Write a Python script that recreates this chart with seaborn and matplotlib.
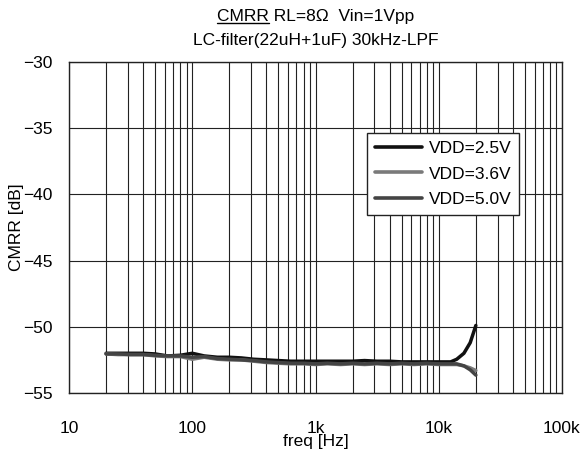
import numpy as np
import pandas as pd
import matplotlib
matplotlib.use("Agg")
import matplotlib.pyplot as plt
import seaborn as sns
from matplotlib.lines import Line2D

freq = [20, 25, 31.5, 40, 50, 63, 80, 100, 125, 160, 200, 250, 315, 400, 500,
        630, 800, 1000, 1250, 1600, 2000, 2500, 3150, 4000, 5000, 6300, 8000,
        10000, 12500, 14000, 16000, 18000, 20000]
vdd_25 = [-52.0, -52.0, -52.0, -52.0, -52.05, -52.2, -52.15, -52.0, -52.2, -52.3,
          -52.3, -52.35, -52.45, -52.5, -52.55, -52.6, -52.6, -52.6, -52.6, -52.6,
          -52.6, -52.55, -52.6, -52.6, -52.65, -52.65, -52.65, -52.65, -52.65,
          -52.45, -52.0, -51.2, -49.9]
vdd_36 = [-52.05, -52.1, -52.1, -52.1, -52.2, -52.25, -52.25, -52.45, -52.3, -52.45,
          -52.5, -52.5, -52.6, -52.7, -52.75, -52.8, -52.8, -52.85, -52.8, -52.85,
          -52.8, -52.85, -52.8, -52.85, -52.8, -52.85, -52.8, -52.85, -52.85,
          -52.85, -52.95, -53.1, -53.3]
vdd_50 = [-52.05, -52.05, -52.1, -52.1, -52.15, -52.2, -52.2, -52.3, -52.25, -52.4,
          -52.45, -52.5, -52.55, -52.65, -52.7, -52.75, -52.75, -52.8, -52.75, -52.8,
          -52.75, -52.8, -52.75, -52.8, -52.75, -52.8, -52.75, -52.8, -52.8,
          -52.8, -52.95, -53.25, -53.65]
series_names = ["VDD=2.5V", "VDD=3.6V", "VDD=5.0V"]
series_colors = ["#111111", "#7a7a7a", "#444444"]
x_ticks = [10, 100, 1000, 10000, 100000]
x_ticklabels = ["10", "100", "1k", "10k", "100k"]
y_ticks = [-30, -35, -40, -45, -50, -55]
title_line1 = "CMRR RL=8Ω  Vin=1Vpp"
title_line2 = "LC-filter(22uH+1uF) 30kHz-LPF"

df = pd.DataFrame({
    "freq": freq * 3,
    "cmrr": vdd_25 + vdd_36 + vdd_50,
    "series": sum([[n] * len(freq) for n in series_names], []),
})

sns.set_style("white")
plt.rcParams["font.family"] = ["Liberation Sans", "DejaVu Sans"]
plt.rcParams["axes.unicode_minus"] = True
for k in ["text.color", "axes.labelcolor", "xtick.color", "ytick.color"]:
    plt.rcParams[k] = "black"

fig = plt.figure(figsize=(5.87, 4.55), dpi=100)
ax = fig.add_axes([69 / 587, 1 - 393 / 455, (562 - 69) / 587, (393 - 62) / 455])

sns.lineplot(data=df, x="freq", y="cmrr", hue="series", hue_order=series_names,
             palette=series_colors, linewidth=2.5, ax=ax, legend=False, zorder=3)

ax.set_xscale("log")
ax.set_xlim(10, 100000)
ax.set_ylim(-55, -30)
ax.set_xticks(x_ticks)
ax.set_xticklabels(x_ticklabels)
ax.set_yticks(y_ticks)
ax.set_yticklabels([str(v).replace("-", "\u2212") for v in y_ticks])
ax.xaxis.set_minor_locator(matplotlib.ticker.LogLocator(base=10, subs=np.arange(2, 10)))
ax.xaxis.set_minor_formatter(matplotlib.ticker.NullFormatter())
ax.grid(True, which="major", axis="both", color="#222222", linewidth=0.8)
ax.grid(True, which="minor", axis="x", color="#222222", linewidth=0.8)
ax.tick_params(axis="both", which="both", length=0, labelsize=12.5, labelcolor="black")
ax.tick_params(axis="x", pad=20)
ax.tick_params(axis="y", pad=12)
for s in ax.spines.values():
    s.set_visible(True)
    s.set_color("#222222")
    s.set_linewidth(1.0)

ax.set_xlabel("freq [Hz]", fontsize=12.5, labelpad=-1, color="black")
ax.set_ylabel("CMRR [dB]", fontsize=12.5, color="black")
ax.yaxis.set_label_coords(-0.092, 0.5)

handles = [Line2D([0], [0], color=c, lw=2.6) for c in series_colors]
leg = ax.legend(handles, series_names, loc="upper left",
                bbox_to_anchor=((367 - 69) / 493, (393 - 133) / 331),
                fontsize=12.5, frameon=True, fancybox=False, framealpha=1,
                edgecolor="#222222", handlelength=2.7, handletextpad=0.4,
                borderpad=0.45, labelspacing=0.6, borderaxespad=0)
leg.get_frame().set_linewidth(1.0)
leg.set_zorder(5)
for t in leg.get_texts():
    t.set_color("black")

cx = (69 + 562) / 2 / 587
t1 = fig.text(cx, 1 - 16 / 455, title_line1, ha="center", va="center", fontsize=12.5, color="black")
t2 = fig.text(cx, 1 - 40 / 455, title_line2, ha="center", va="center", fontsize=12.5, color="black")

fig.canvas.draw()
r = fig.canvas.get_renderer()
bb = t1.get_window_extent(r)
tmp = fig.text(0, 0, "CMRR", fontsize=12.5)
w = tmp.get_window_extent(r).width
tmp.remove()
fig.add_artist(Line2D([bb.x0 / fig.bbox.width, (bb.x0 + w) / fig.bbox.width],
                      [(bb.y0 + 1) / fig.bbox.height] * 2,
                      transform=fig.transFigure, color="black", lw=1.0))

fig.savefig("out.png", dpi=100)
